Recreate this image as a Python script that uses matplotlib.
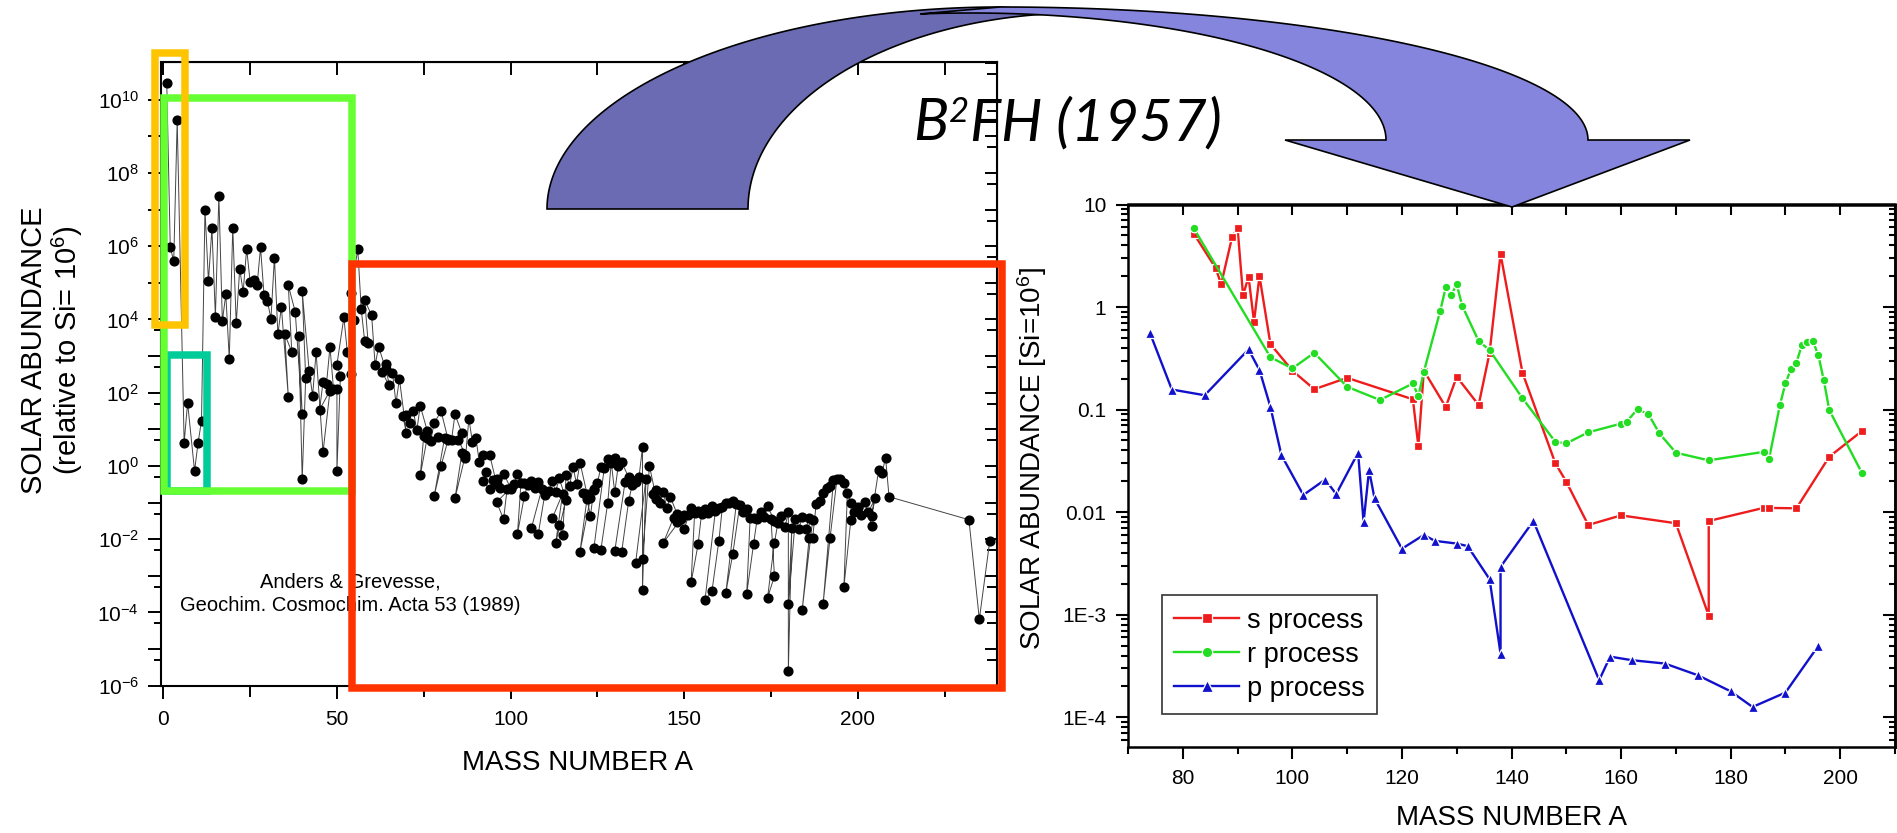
import numpy as np
import matplotlib
matplotlib.use('Agg')
import matplotlib.pyplot as plt
from matplotlib.patches import Rectangle, Polygon
from matplotlib.ticker import FixedLocator, FixedFormatter, NullFormatter

W, H = 1897, 833
plt.rcParams['font.family'] = ['Liberation Sans', 'DejaVu Sans']
plt.rcParams['mathtext.fontset'] = 'custom'
plt.rcParams['mathtext.rm'] = 'Liberation Sans'

# ---- left panel: solar abundance of every isotope (ordered by element, then A)
mass_number = [
    1, 2, 3, 4, 6, 7, 9, 10, 11,
    12, 13, 14, 15, 16, 17, 18, 19,
    20, 21, 22, 23, 24, 25, 26, 27,
    28, 29, 30, 31, 32, 33, 34, 36,
    35, 37, 36, 38, 40, 39, 40, 41,
    40, 42, 43, 44, 46, 48, 45,
    46, 47, 48, 49, 50, 50, 51,
    50, 52, 53, 54, 55,
    54, 56, 57, 58, 59,
    58, 60, 61, 62, 64, 63, 65,
    64, 66, 67, 68, 70, 69, 71,
    70, 72, 73, 74, 76, 75,
    74, 76, 77, 78, 80, 82, 79, 81,
    78, 80, 82, 83, 84, 86, 85, 87,
    84, 86, 87, 88, 89,
    90, 91, 92, 94, 96, 93,
    92, 94, 95, 96, 97, 98, 100,
    96, 98, 99, 100, 101, 102, 104, 103,
    102, 104, 105, 106, 108, 110, 107, 109,
    106, 108, 110, 111, 112, 113, 114, 116,
    113, 115,
    112, 114, 115, 116, 117, 118, 119, 120, 122, 124,
    121, 123,
    120, 122, 123, 124, 125, 126, 128, 130, 127,
    124, 126, 128, 129, 130, 131, 132, 134, 136, 133,
    130, 132, 134, 135, 136, 137, 138,
    138, 139, 136, 138, 140, 142, 141,
    142, 143, 144, 145, 146, 148, 150,
    144, 147, 148, 149, 150, 152, 154, 151, 153,
    152, 154, 155, 156, 157, 158, 160, 159,
    156, 158, 160, 161, 162, 163, 164, 165,
    162, 164, 166, 167, 168, 170, 169,
    168, 170, 171, 172, 173, 174, 176,
    175, 176, 174, 176, 177, 178, 179, 180,
    180, 181, 180, 182, 183, 184, 186,
    185, 187, 184, 186, 187, 188, 189, 190, 192,
    191, 193, 190, 192, 194, 195, 196, 198, 197,
    196, 198, 199, 200, 201, 202, 204, 203, 205,
    204, 206, 207, 208, 209, 232, 235, 238,
]
solar_abund = [
    2.79e10, 9.5e5, 3.86e5, 2.72e9, 4.3, 53, 0.73, 4.2, 17,
    1.0e7, 1.1e5, 3.1e6, 1.2e4, 2.37e7, 9.0e3, 4.8e4, 843,
    3.2e6, 7.8e3, 2.4e5, 5.7e4, 8.5e5, 1.08e5, 1.19e5, 8.5e4,
    9.2e5, 4.7e4, 3.1e4, 1.04e4, 4.9e5, 3.9e3, 2.2e4, 77,
    3.9e3, 1.3e3, 8.5e4, 1.6e4, 26, 3.5e3, 0.44, 254,
    5.9e4, 400, 83, 1.28e3, 2.4, 114, 34,
    198, 178, 1.77e3, 130, 126, 0.73, 292,
    587, 1.13e4, 1.28e3, 320, 9.55e3,
    5.3e4, 8.3e5, 1.9e4, 2.5e3, 2.25e3,
    3.36e4, 1.29e4, 563, 1.8e3, 457, 360, 162,
    612, 350, 52, 236, 7.9, 22.7, 15.1,
    24.4, 32.6, 9.3, 43.6, 9.2, 6.6,
    0.55, 5.85, 4.8, 15, 31, 5.4, 6.0, 5.8,
    0.15, 1.0, 5.2, 5.2, 25.6, 7.8, 5.1, 2.0,
    0.13, 2.3, 1.6, 19.5, 4.6,
    5.9, 1.28, 1.96, 1.98, 0.32, 0.70,
    0.38, 0.236, 0.41, 0.43, 0.245, 0.62, 0.25,
    0.103, 0.035, 0.236, 0.235, 0.317, 0.587, 0.347, 0.344,
    0.0142, 0.155, 0.31, 0.38, 0.37, 0.164, 0.252, 0.234,
    0.020, 0.0143, 0.201, 0.206, 0.388, 0.197, 0.463, 0.121,
    0.0079, 0.176,
    0.037, 0.025, 0.0129, 0.552, 0.292, 0.921, 0.327, 1.24, 0.176, 0.22,
    0.177, 0.132,
    0.0046, 0.124, 0.0437, 0.23, 0.343, 0.91, 1.53, 1.63, 0.90,
    0.0057, 0.0051, 0.10, 1.24, 0.19, 1.0, 1.27, 0.49, 0.42, 0.372,
    0.0047, 0.0045, 0.109, 0.296, 0.353, 0.504, 3.22,
    0.0004, 0.446, 0.0022, 0.0029, 1.0, 0.126, 0.167,
    0.225, 0.10, 0.197, 0.069, 0.143, 0.048, 0.047,
    0.008, 0.039, 0.029, 0.036, 0.019, 0.07, 0.059, 0.0465, 0.0508,
    0.00066, 0.0072, 0.049, 0.068, 0.052, 0.082, 0.072, 0.060,
    0.00022, 0.00038, 0.0092, 0.075, 0.10, 0.098, 0.111, 0.089,
    0.00035, 0.004, 0.084, 0.057, 0.067, 0.037, 0.038,
    0.00032, 0.0076, 0.035, 0.054, 0.040, 0.079, 0.032,
    0.036, 0.00098, 0.00025, 0.0081, 0.028, 0.042, 0.021, 0.054,
    2.5e-6, 0.0207, 0.00017, 0.035, 0.019, 0.041, 0.038,
    0.019, 0.033, 0.00012, 0.011, 0.0109, 0.089, 0.109, 0.177, 0.277,
    0.247, 0.414, 0.00017, 0.0106, 0.44, 0.45, 0.34, 0.097, 0.187,
    0.0005, 0.034, 0.057, 0.078, 0.045, 0.101, 0.023, 0.054, 0.13,
    0.044, 0.76, 0.66, 1.66, 0.144, 0.034, 6.5e-5, 0.009,
]

# ---- right panel: s, r and p process contributions
s_mass = [82, 86, 87, 89, 90, 91, 92, 93, 94, 96, 100, 104, 110, 122, 123, 124,
          128, 130, 134, 136, 138, 142, 148, 150, 154, 160, 170, 176, 176, 186,
          187, 192, 198, 204]
s_abund = [5.2, 2.4, 1.67, 4.8, 5.9, 1.3, 1.98, 0.72, 2.0, 0.435, 0.24, 0.158,
           0.204, 0.126, 0.044, 0.24, 0.106, 0.209, 0.111, 0.358, 3.29, 0.229,
           0.030, 0.0198, 0.0075, 0.0093, 0.0078, 0.00098, 0.0082, 0.011, 0.011,
           0.0109, 0.0347, 0.062]
r_mass = [82, 96, 100, 104, 110, 116, 122, 123, 124, 127, 128, 129, 130, 131,
          134, 136, 142, 148, 150, 154, 160, 161, 163, 165, 167, 170, 176, 186,
          187, 189, 190, 191, 192, 193, 194, 195, 196, 197, 198, 204]
r_abund = [5.87, 0.324, 0.252, 0.358, 0.167, 0.124, 0.18, 0.135, 0.234, 0.92,
           1.56, 1.31, 1.66, 1.03, 0.466, 0.38, 0.129, 0.0485, 0.0468, 0.06,
           0.073, 0.076, 0.101, 0.09, 0.0586, 0.038, 0.032, 0.0387, 0.0329,
           0.111, 0.18, 0.248, 0.286, 0.426, 0.453, 0.466, 0.34, 0.194, 0.099,
           0.0239]
p_mass = [74, 78, 84, 92, 94, 96, 98, 102, 106, 108, 112, 113, 114, 115, 120,
          124, 126, 130, 132, 136, 138, 138, 144, 156, 158, 162, 168, 174, 180,
          184, 190, 196]
p_abund = [0.56, 0.157, 0.138, 0.386, 0.243, 0.106, 0.036, 0.0147, 0.0208,
           0.015, 0.038, 0.008, 0.0257, 0.0136, 0.0044, 0.006, 0.00525,
           0.00494, 0.00466, 0.00222, 0.000418, 0.00293, 0.0082, 0.00023,
           0.00039, 0.00036, 0.000334, 0.000257, 0.000179, 0.000126, 0.000174,
           0.000497]
right_yticks = [1e-4, 1e-3, 1e-2, 0.1, 1, 10]
right_ylabels = ['1E-4', '1E-3', '0.01', '0.1', '1', '10']

RED, GREEN, BLUE = '#ee1c1c', '#22dd22', '#1111cc'


def fx(x):
    return x / W


def fy(y):
    return 1 - y / H


fig = plt.figure(figsize=(W / 100, H / 100), dpi=100)

# ================= left panel =================
ax1 = fig.add_axes([fx(160.7), fy(685.7), 836 / W, 623.4 / H])
ax1.plot(mass_number, solar_abund, '-', color='#444444', lw=0.7, zorder=2)
ax1.plot(mass_number, solar_abund, 'o', color='black', ms=6.3, zorder=3)
ax1.set_yscale('log')

dec = list(range(-6, 11))
ax1.yaxis.set_major_locator(FixedLocator([10.0 ** k for k in dec]))
ax1.yaxis.set_major_formatter(FixedFormatter(
    [r'$\mathregular{10^{%d}}$' % k if k % 2 == 0 else '' for k in dec]))
ax1.yaxis.set_minor_locator(FixedLocator([5 * 10.0 ** k for k in range(-6, 4)]))
ax1.yaxis.set_minor_formatter(NullFormatter())
ax1.xaxis.set_major_locator(FixedLocator([0, 50, 100, 150, 200]))
ax1.xaxis.set_minor_locator(FixedLocator([25, 75, 125, 175, 225]))
ax1.tick_params(which='major', direction='out', length=9.5, width=1.4,
                labelsize=15, pad=6)
ax1.tick_params(axis='x', which='major', pad=8)
ax1.tick_params(which='minor', direction='out', length=5, width=1.4)
ax1.tick_params(axis='x', which='minor', length=8)
for sp in ax1.spines.values():
    sp.set_linewidth(1.5)

sx1 = ax1.secondary_xaxis('top')
sx1.xaxis.set_major_locator(FixedLocator(list(range(0, 241, 25))))
sx1.xaxis.set_major_formatter(NullFormatter())
sx1.tick_params(direction='in', length=9, width=1.4)
sy1 = ax1.secondary_yaxis('right')
sy1.yaxis.set_major_locator(FixedLocator([10.0 ** k for k in range(-6, 12)]))
sy1.yaxis.set_minor_locator(FixedLocator([5 * 10.0 ** k for k in range(-6, 11)]))
sy1.yaxis.set_major_formatter(NullFormatter())
sy1.yaxis.set_minor_formatter(NullFormatter())
sy1.tick_params(which='major', direction='in', length=8.5, width=1.4)
sy1.tick_params(which='minor', direction='in', length=7, width=1.4)

ax1.text(0.2264, 0.147, 'Anders & Grevesse,\nGeochim. Cosmochim. Acta 53 (1989)',
         transform=ax1.transAxes, ha='center', va='center', fontsize=14.5,
         linespacing=1.3, zorder=1)

# highlight boxes (data coordinates of the left panel: A range, log10 range)
boxes = [
    ((1.07, 12.58), (-0.68, 3.04), '#00CC99'),
    ((0.06, 54.3), (-0.68, 10.05), '#66FF33'),
    ((-2.25, 6.39), (3.84, 11.27), '#FFC400'),
    ((54.3, 241.6), (-6.05, 5.51), '#FF3300'),
]
for (xa, xb), (la, lb), col in boxes:
    ax1.add_patch(Rectangle((xa, 10 ** la), xb - xa, 10 ** lb - 10 ** la,
                            fill=False, edgecolor=col, lw=5.4, joinstyle='miter',
                            clip_on=False, zorder=5))
ax1.set_xlim(-0.75, 240)
ax1.set_ylim(1e-6, 10 ** 11.02)

fig.text(fx(34), fy(350), 'SOLAR ABUNDANCE', rotation=90, ha='center',
         va='center', fontsize=21)
fig.text(fx(67), fy(350), r'(relative to Si= $\mathregular{10^6}$)', rotation=90,
         ha='center', va='center', fontsize=21)
fig.text(fx(578), fy(763), 'MASS NUMBER A', ha='center', va='center', fontsize=20)

# ================= right panel =================
ax2 = fig.add_axes([fx(1128), fy(747), 767 / W, 542.5 / H])
mk = dict(mec='white', mew=0.9, lw=1.7)
ax2.plot(s_mass, s_abund, '-s', color=RED, ms=6.0, label='s process', **mk)
ax2.plot(r_mass, r_abund, '-o', color=GREEN, ms=6.2, label='r process', **mk)
ax2.plot(p_mass, p_abund, '-^', color=BLUE, ms=7.0, label='p process', **mk)
ax2.set_yscale('log')
ax2.set_xlim(70, 210)
ax2.set_ylim(10 ** -4.29, 10)
ax2.yaxis.set_major_locator(FixedLocator(right_yticks))
ax2.yaxis.set_major_formatter(FixedFormatter(right_ylabels))
minors = [m * 10.0 ** k for k in range(-5, 1) for m in range(2, 10)]
ax2.yaxis.set_minor_locator(FixedLocator(minors))
ax2.yaxis.set_minor_formatter(NullFormatter())
ax2.xaxis.set_major_locator(FixedLocator(list(range(80, 201, 20))))
ax2.xaxis.set_minor_locator(FixedLocator(list(range(70, 211, 20))))
ax2.tick_params(which='major', direction='out', length=8.5, width=1.5,
                labelsize=15, pad=7)
ax2.tick_params(which='minor', direction='out', length=5, width=1.5)
for sp in ax2.spines.values():
    sp.set_linewidth(1.8)

sx2 = ax2.secondary_xaxis('top')
sx2.xaxis.set_major_locator(FixedLocator(list(range(70, 211, 10))))
sx2.xaxis.set_major_formatter(NullFormatter())
sx2.tick_params(direction='in', length=8, width=1.5)
sy2 = ax2.secondary_yaxis('right')
sy2.yaxis.set_major_locator(FixedLocator(right_yticks))
sy2.yaxis.set_minor_locator(FixedLocator(minors))
sy2.yaxis.set_major_formatter(NullFormatter())
sy2.yaxis.set_minor_formatter(NullFormatter())
sy2.tick_params(which='major', direction='in', length=9, width=1.5)
sy2.tick_params(which='minor', direction='in', length=4.5, width=1.5)
for s in (sx2, sy2):
    for sp in s.spines.values():
        sp.set_linewidth(1.8)

leg = ax2.legend(loc='lower left', bbox_to_anchor=(0.0443, 0.0608),
                 borderaxespad=0, fontsize=19.5, fancybox=False, framealpha=1,
                 edgecolor='#333333', handlelength=2.4, handletextpad=0.3,
                 labelspacing=0.3, borderpad=0.45, markerscale=1.2)
leg.get_frame().set_linewidth(1.2)

fig.text(fx(1032), fy(459), r'SOLAR ABUNDANCE [Si=$\mathregular{10^6}$]',
         rotation=90, ha='center', va='center', fontsize=20)
fig.text(fx(1511), fy(818), 'MASS NUMBER A', ha='center', va='center', fontsize=20)


# ================= curved arrow =================
def arc(cx, cy, a, b, t0, t1, n=90):
    t = np.radians(np.linspace(t0, t1, n))
    return np.column_stack([cx + a * np.cos(t), cy - b * np.sin(t)])


def to_fig(pts):
    pts = np.asarray(pts, dtype=float)
    return np.column_stack([pts[:, 0] / W, 1 - pts[:, 1] / H])


back = np.vstack([arc(1000, 209, 453, 202, 180, 90),
                  arc(1080, 209, 332, 196, 90, 180)])
front = np.vstack([arc(1000, 140, 588, 133, 90, 0),
                   [[1690, 140], [1512, 207], [1285, 140]],
                   arc(971, 140, 415, 127, 0, 97)])
fig.add_artist(Polygon(to_fig(back), closed=True, transform=fig.transFigure,
                       facecolor='#6b6bb3', edgecolor='black', lw=1.2, zorder=10))
fig.add_artist(Polygon(to_fig(front), closed=True, transform=fig.transFigure,
                       facecolor='#8585dd', edgecolor='black', lw=1.2, zorder=11))

# "B²FH (1957)" in italics, with a real superscript 2
title_font = dict(style='italic', family=['Lato', 'DejaVu Sans'], zorder=12,
                  va='baseline', ha='left')
renderer = fig.canvas.get_renderer()
x_left = 913
t_b = fig.text(fx(x_left), fy(140), 'B', fontsize=42, **title_font)
x_next = t_b.get_window_extent(renderer).x1 + 1
t_2 = fig.text(x_next / W, fy(122), '2', fontsize=25, **title_font)
x_next = t_2.get_window_extent(renderer).x1 + 1
fig.text(x_next / W, fy(140), 'FH (1957)', fontsize=42, **title_font)

fig.savefig('out.png', dpi=100)
